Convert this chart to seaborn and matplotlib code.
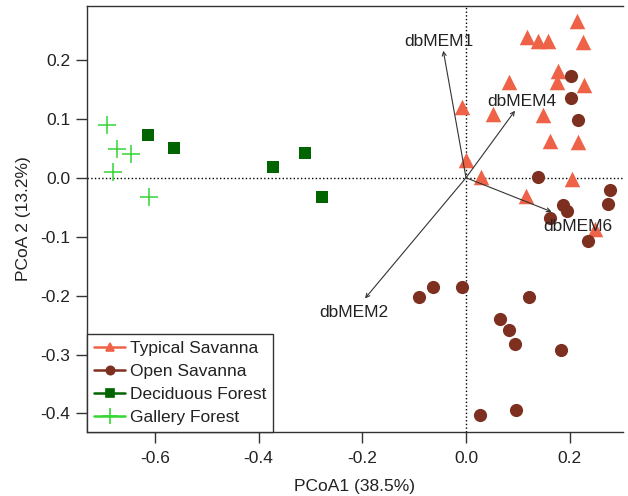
import numpy as np
import pandas as pd
import matplotlib
matplotlib.use("Agg")
import matplotlib.pyplot as plt
from matplotlib.lines import Line2D
import seaborn as sns

# Site scores
typical_x = [0.2135, 0.1182, 0.1383, 0.1588, 0.225, 0.1768, 0.1749, 0.2276, 0.0835,
             -0.0083, 0.0527, 0.148, 0.162, 0.2166, 0.0, 0.0283, 0.205, 0.1157, 0.2488]
typical_y = [0.2666, 0.2394, 0.2326, 0.2326, 0.2309, 0.1817, 0.163, 0.157, 0.163,
             0.1195, 0.109, 0.1065, 0.0623, 0.061, 0.030, 0.0017, -0.0027, -0.0306, -0.0876]

open_x = [-0.0906, -0.063, -0.0083, 0.1215, 0.0656, 0.0823, 0.0951, 0.1826, 0.027, 0.0964,
          0.2025, 0.2025, 0.2154, 0.1395, 0.2777, 0.2745, 0.1865, 0.1954, 0.162, 0.236]
open_y = [-0.203, -0.186, -0.185, -0.203, -0.239, -0.2586, -0.2823, -0.293, -0.403, -0.394,
          0.1727, 0.1358, 0.098, 0.0017, -0.021, -0.045, -0.0464, -0.0565, -0.069, -0.107]

deciduous_x = [-0.613, -0.563, -0.373, -0.3105, -0.278]
deciduous_y = [0.073, 0.051, 0.0187, 0.0414, -0.032]

gallery_x = [-0.693, -0.674, -0.647, -0.680, -0.611]
gallery_y = [0.0895, 0.048, 0.040, 0.010, -0.033]

groups = ["Typical Savanna", "Open Savanna", "Deciduous Forest", "Gallery Forest"]
colors = ["#EE6347", "#7E3020", "#006400", "#33D633"]
markers = ["^", "o", "s", "+"]
sizes = [125, 90, 80, 150]

# dbMEM vectors (arrow tips) and label positions
mem_names = ["dbMEM1", "dbMEM4", "dbMEM6", "dbMEM2"]
mem_x = [-0.0438, 0.0945, 0.165, -0.1948]
mem_y = [0.2156, 0.1138, -0.0577, -0.2048]
mem_lab_x = [-0.0515, 0.1074, 0.2147, -0.216]
mem_lab_y = [0.231, 0.129, -0.082, -0.229]

df = pd.concat([
    pd.DataFrame({"x": typical_x, "y": typical_y, "group": groups[0]}),
    pd.DataFrame({"x": open_x, "y": open_y, "group": groups[1]}),
    pd.DataFrame({"x": deciduous_x, "y": deciduous_y, "group": groups[2]}),
    pd.DataFrame({"x": gallery_x, "y": gallery_y, "group": groups[3]}),
], ignore_index=True)

sns.set_style("white")
plt.rcParams["font.family"] = ["Liberation Sans", "DejaVu Sans"]
fs = 12.5
txt = "#222222"

fig = plt.figure(figsize=(6.28, 4.96), dpi=100)
ax = fig.add_axes([87 / 628, (496 - 431.7) / 496, (623 - 87) / 628, (431.7 - 6) / 496])

ax.axhline(0, color="black", ls=":", lw=1, zorder=1)
ax.axvline(0, color="black", ls=":", lw=1, zorder=1)

for g, c, m, s in zip(groups, colors, markers, sizes):
    sub = df[df["group"] == g]
    lw = 1.1 if m == "+" else 0
    sns.scatterplot(data=sub, x="x", y="y", color=c, marker=m, s=s, linewidth=lw,
                    ax=ax, legend=False, zorder=3)

for name, tx, ty, lx, ly in zip(mem_names, mem_x, mem_y, mem_lab_x, mem_lab_y):
    ax.annotate("", xy=(tx, ty), xytext=(0, 0),
                arrowprops=dict(arrowstyle="->", color="#333333", lw=0.8,
                                mutation_scale=7, shrinkA=0, shrinkB=0), zorder=4)
    ax.text(lx, ly, name, ha="center", va="center", fontsize=fs, color=txt, zorder=5)

ax.set_xlim(-0.731, 0.3028)
ax.set_ylim(-0.431, 0.2915)
ax.set_xticks([-0.6, -0.4, -0.2, 0.0, 0.2])
ax.set_yticks([-0.4, -0.3, -0.2, -0.1, 0.0, 0.1, 0.2])
ax.xaxis.set_major_formatter(matplotlib.ticker.FormatStrFormatter("%.1f"))
ax.yaxis.set_major_formatter(matplotlib.ticker.FormatStrFormatter("%.1f"))
ax.tick_params(axis="both", direction="out", length=8, width=1, color="#333333",
               labelsize=fs, labelcolor=txt, bottom=True, left=True)
ax.tick_params(axis="x", pad=6)
ax.tick_params(axis="y", pad=4)
for side in ["left", "bottom", "top"]:
    ax.spines[side].set_color("#333333")
    ax.spines[side].set_linewidth(1)
ax.spines["right"].set_visible(False)

ax.set_xlabel("PCoA1 (38.5%)", fontsize=fs, color=txt, labelpad=9)
ax.set_ylabel("PCoA 2 (13.2%)", fontsize=fs, color=txt, labelpad=7)

handles = [Line2D([0], [0], color=c, marker=m, markersize=6 if m != "+" else 12,
                  lw=1.8, markeredgewidth=1.2)
           for c, m in zip(colors, markers)]
leg = ax.legend(handles, groups, loc="lower left", bbox_to_anchor=(0, 0), borderaxespad=0,
                frameon=True, fancybox=False, edgecolor="#333333", framealpha=1,
                handlelength=1.8, handletextpad=0.25, borderpad=0.4, labelspacing=0.45,
                fontsize=fs)
leg.get_frame().set_linewidth(1)
for t in leg.get_texts():
    t.set_color(txt)

fig.savefig("out.png", dpi=100)
